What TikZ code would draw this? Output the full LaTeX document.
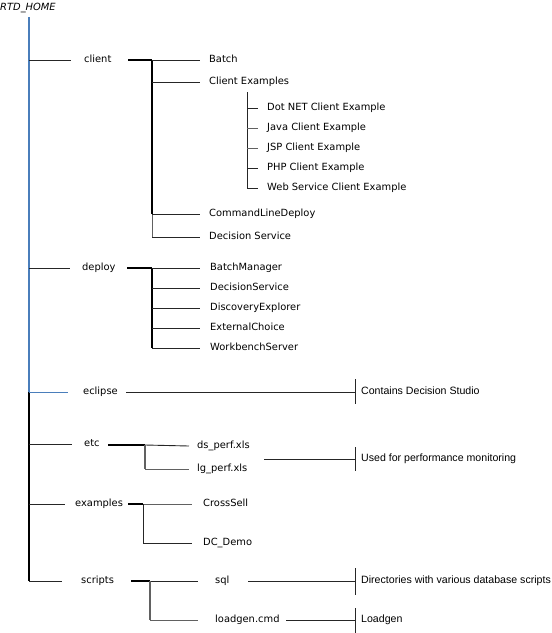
\documentclass[tikz,border=0pt]{standalone}
\usepackage{fontspec}
\newfontfamily\labfont{DejaVu Sans}
\newfontfamily\notefont{Liberation Sans}
\begin{document}
\begin{tikzpicture}[x=1pt,y=-1pt,
 lab/.style={font=\labfont\fontsize{9.9}{11}\selectfont, inner sep=0pt, anchor=west, text height=7.5pt, text depth=2.3pt},
 note/.style={font=\notefont\fontsize{10.6}{12}\selectfont, inner sep=0pt, anchor=west, text height=7.6pt, text depth=2.2pt},
 ln/.style={line width=0.9pt, black!85},
 lng/.style={line width=1pt, black!62},
 hv/.style={line width=1.6pt, black},
 trunkblue/.style={line width=1.2pt, color={rgb,255:red,74;green,126;blue,187}}
]
\useasboundingbox (0,0) rectangle (552,633);
% ---------- labels ----------
\node[lab, font=\labfont\itshape\fontsize{9.9}{11}\selectfont] (home) at (0,8) {RTD\_HOME};
\node[lab] (client) at (84,60) {client};
\node[lab] (deploy) at (82,268) {deploy};
\node[lab] (eclipse) at (83,392) {eclipse};
\node[lab] (etc) at (84,444) {etc};
\node[lab] (examples) at (75,504) {examples};
\node[lab] (scripts) at (81,581) {scripts};
% client children
\node[lab] (batch) at (209,60) {Batch};
\node[lab] (cex) at (209,82) {Client Examples};
\node[lab] (cld) at (209,214) {CommandLineDeploy};
\node[lab] (dsv) at (209,237) {Decision Service};
\node[lab] (dotnet) at (267,108) {Dot NET Client Example};
\node[lab] (java) at (267,128) {Java Client Example};
\node[lab] (jsp) at (267,148) {JSP Client Example};
\node[lab] (php) at (267,168) {PHP Client Example};
\node[lab] (web) at (267,188) {Web Service Client Example};
% deploy children
\node[lab] (bm) at (210,268) {BatchManager};
\node[lab] (dsrv) at (210,288) {DecisionService};
\node[lab] (dex) at (210,308) {DiscoveryExplorer};
\node[lab] (ext) at (210,328) {ExternalChoice};
\node[lab] (wbs) at (210,348) {WorkbenchServer};
% etc children
\node[lab] (dsp) at (197,446) {ds\_perf.xls};
\node[lab] (lgp) at (197,469) {lg\_perf.xls};
% examples children
\node[lab] (cs) at (203,504) {CrossSell};
\node[lab] (dcd) at (203,543) {DC\_Demo};
% scripts children
\node[lab] (sql) at (215,581) {sql};
\node[lab] (lgc) at (215,620) {loadgen.cmd};
% notes
\node[note] (n1) at (361,392) {Contains Decision Studio};
\node[note] (n2) at (361,459) {Used for performance monitoring};
\node[note] (n3) at (361,581) {Directories with various database scripts};
\node[note] (n4) at (361,620) {Loadgen};
% ---------- trunk ----------
\coordinate (t0) at (29,17);
\coordinate (tc) at (29,60);
\coordinate (td) at (29,268);
\coordinate (te) at (29,392);
\coordinate (tt) at (29,444);
\coordinate (tx) at (29,504);
\coordinate (ts) at (29,581);
\draw[trunkblue] (t0) -- (te);
\draw[line width=1.1pt, black] (te) -- (ts);
\draw[ln] (tc) -- ([xshift=-13pt]client.west);
\draw[ln] (td) -- ([xshift=-12pt]deploy.west);
\draw[trunkblue, line width=0.8pt] (te) -- ([xshift=-15pt]eclipse.west);
\draw[ln] (tt) -- ([xshift=-12pt]etc.west);
\draw[ln] (tx) -- ([xshift=-10pt]examples.west);
\draw[ln] (ts) -- ([xshift=-19pt]scripts.west);
% ---------- client ----------
\coordinate (cj) at (152,60);
\coordinate (cj2) at (152,214);
\coordinate (cj3) at (152,237);
\draw[hv] (128,60) -- (cj);
\draw[line width=1.4pt] (cj) -- (cj2);
\draw[lng] (cj2) -- (cj3);
\draw[ln] (cj) -- ([xshift=-9pt]batch.west);
\draw[ln] (152,82) -- ([xshift=-9pt]cex.west);
\draw[ln] (cj2) -- ([xshift=-9pt]cld.west);
\draw[ln] (cj3) -- ([xshift=-9pt]dsv.west);
\coordinate (ej) at (247,92);
\coordinate (ej2) at (247,188);
\draw[ln] (ej) -- (ej2);
\draw[ln] (247,108) -- ([xshift=-9pt]dotnet.west);
\draw[lng] (247,128) -- ([xshift=-9pt]java.west);
\draw[lng] (247,148) -- ([xshift=-9pt]jsp.west);
\draw[ln] (247,168) -- ([xshift=-9pt]php.west);
\draw[ln] (ej2) -- ([xshift=-9pt]web.west);
% ---------- deploy ----------
\coordinate (dj) at (152,268);
\coordinate (dj2) at (152,348);
\draw[hv] (127,268) -- (dj);
\draw[line width=1.2pt] (dj) -- (dj2);
\draw[ln] (dj) -- ([xshift=-10pt]bm.west);
\draw[ln] (152,288) -- ([xshift=-10pt]dsrv.west);
\draw[ln] (152,308) -- ([xshift=-10pt]dex.west);
\draw[ln] (152,328) -- ([xshift=-10pt]ext.west);
\draw[ln] (dj2) -- ([xshift=-10pt]wbs.west);
% ---------- eclipse ----------
\coordinate (k1) at (355,392);
\draw[ln] (126,392) -- (k1);
\draw[ln] (355,379) -- (355,404);
% ---------- etc ----------
\coordinate (xj) at (145,445);
\coordinate (xj2) at (145,469);
\draw[hv] (108,445) -- (xj);
\draw[ln] (xj) -- ([xshift=-8pt]dsp.west);
\draw[lng, line width=1.3pt] (xj) -- (xj2);
\draw[lng] (xj2) -- ([xshift=-8pt]lgp.west);
\coordinate (k2s) at (264,459);
\coordinate (k2) at (355,459);
\draw[ln] (k2s) -- (k2);
\draw[ln] (355,447) -- (355,471);
% ---------- examples ----------
\coordinate (mj) at (143,504);
\coordinate (mj2) at (143,543);
\draw[hv] (128,504) -- (mj);
\draw[lng] (mj) -- ([xshift=-11pt]cs.west);
\draw[ln] (mj) -- (mj2);
\draw[ln] (mj2) -- ([xshift=-11pt]dcd.west);
% ---------- scripts ----------
\coordinate (sj) at (150,581);
\coordinate (sj2) at (150,620);
\draw[hv] (131,581) -- (sj);
\draw[ln] (sj) -- ([xshift=-17pt]sql.west);
\draw[lng, line width=1.3pt] (sj) -- (sj2);
\draw[lng] (sj2) -- ([xshift=-17pt]lgc.west);
\coordinate (k3) at (355,581);
\draw[ln] (248,581) -- (k3);
\draw[ln] (355,568) -- (355,595);
\coordinate (k4) at (355,620);
\draw[ln] (286,620) -- (k4);
\draw[ln] (355,608) -- (355,633);
\end{tikzpicture}
\end{document}
